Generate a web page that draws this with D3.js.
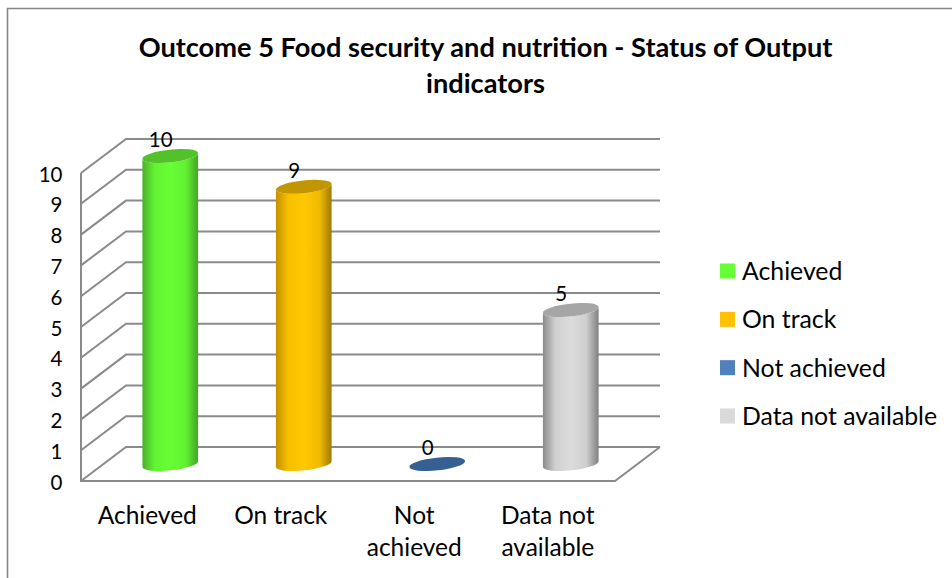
<!DOCTYPE html>
<html><head><meta charset="utf-8">
<script src="https://cdn.jsdelivr.net/npm/d3@7/dist/d3.min.js"></script>
<style>html,body{margin:0;padding:0;background:#fff}svg{display:block}text{font-family:Lato,"Noto Sans",sans-serif;fill:#000}</style>
</head><body><svg id="c" width="952" height="578"></svg>
<script>
const categories = ["Achieved","On track","Not achieved","Data not available"];
const values = [10,9,0,5];
const categoryLines = [["Achieved"],["On track"],["Not","achieved"],["Data not","available"]];
const legendColors = ["#66ff33","#ffc000","#4f81bd","#d9d9d9"];
const capColors = ["#52c12a","#c29600","#376092","#a6a6a6"];
const edgeLeft = ["#4caf2a","#c49000","#2f5480","#8a8a8a"];
const edgeRight = ["#45a326","#a07a00","#2f5480","#808080"];
const mid = ["#66ff33","#ffc800","#4f81bd","#dcdcdc"];
const titleLines = ["Outcome 5 Food security and nutrition - Status of Output","indicators"];
const yTicks = d3.range(0,11);

const svg = d3.select("#c");
const y = d3.scaleLinear().domain([0,10]).range([481,173]);
const x = d3.scaleBand().domain(categories).range([81,615]);
const depth = {x:45,y:-34};
const gridStroke = "#8a8a8a";

// Frame
svg.append("path").attr("d","M7.5,578V8.5H952").attr("fill","none").attr("stroke","#868686").attr("stroke-width",1.6);

// Title
svg.append("g").selectAll("text").data(titleLines).join("text")
  .attr("x",485.5).attr("y",(d,i)=>57+i*36).attr("text-anchor","middle")
  .attr("font-size",27.2).attr("font-weight",700).text(d=>d);

// Walls & gridlines
const g = svg.append("g").attr("fill","none").attr("stroke",gridStroke).attr("stroke-width",2);
g.selectAll("path.grid").data(yTicks).join("path").attr("class","grid")
  .attr("d",d=>`M81,${y(d)}L${81+depth.x},${y(d)+depth.y}H${615+depth.x}`);
g.append("path").attr("d",`M81,${y(10)}V${y(0)}H615L${615+depth.x},${y(0)+depth.y}`);

// y axis labels
svg.append("g").selectAll("text").data(yTicks).join("text")
  .attr("x",62.5).attr("y",d=>y(d)+8.5).attr("text-anchor","end").attr("font-size",20.5).text(d=>d);

// cylinders
const defs = svg.append("defs");
categories.forEach((c,i)=>{
  const gr = defs.append("linearGradient").attr("id","g"+i);
  gr.append("stop").attr("offset","0").attr("stop-color",edgeLeft[i]);
  gr.append("stop").attr("offset",".22").attr("stop-color",d3.interpolateRgb(edgeLeft[i],mid[i])(0.85));
  gr.append("stop").attr("offset",".5").attr("stop-color",mid[i]);
  gr.append("stop").attr("offset",".78").attr("stop-color",d3.interpolateRgb(edgeRight[i],mid[i])(0.85));
  gr.append("stop").attr("offset","1").attr("stop-color",edgeRight[i]);
});
const rx=28, ry=6.4, tilt=-6.2;
const dx=rx*Math.cos(tilt*Math.PI/180), dy=-rx*Math.sin(tilt*Math.PI/180);
const cx=d=>x(d)+x.bandwidth()/2+depth.x/2;
const cy=v=>y(v)+depth.y/2;
const bars = svg.append("g").selectAll("g").data(categories).join("g");
bars.filter((d,i)=>values[i]>0).append("path")
  .attr("fill",d=>`url(#g${categories.indexOf(d)})`)
  .attr("d",d=>{
    const i=categories.indexOf(d), X=cx(d), B=cy(0), T=cy(values[i]);
    return `M${X-dx},${T+dy}L${X-dx},${B+dy}A${rx},${ry} ${tilt} 0 0 ${X+dx},${B-dy}L${X+dx},${T-dy}A${rx},${ry} ${tilt} 0 1 ${X-dx},${T+dy}Z`;
  });
bars.append("ellipse")
  .attr("cx",d=>cx(d)).attr("cy",(d)=>cy(values[categories.indexOf(d)]))
  .attr("rx",rx).attr("ry",ry)
  .attr("transform",d=>`rotate(${tilt} ${cx(d)} ${cy(values[categories.indexOf(d)])})`)
  .attr("fill",d=>capColors[categories.indexOf(d)]);

// value labels
svg.append("g").selectAll("text").data(categories).join("text")
  .attr("x",(d,i)=>cx(d)-9.5).attr("y",(d,i)=>y(values[i])-26)
  .attr("text-anchor","middle").attr("font-size",20.5).text((d,i)=>values[i]);

// category labels
const cat = svg.append("g").selectAll("text").data(categories).join("text")
  .attr("text-anchor","middle").attr("font-size",24.5);
cat.selectAll("tspan").data((d,i)=>categoryLines[i].map(t=>({t,c:d}))).join("tspan")
  .attr("x",d=>x(d.c)+x.bandwidth()/2-0.5).attr("y",(d,i)=>524+i*32).text(d=>d.t);

// legend
const ly = d3.scalePoint().domain(categories).range([271,416]);
const leg = svg.append("g").selectAll("g").data(categories).join("g");
leg.append("rect").attr("x",720).attr("y",d=>ly(d)-7.5).attr("width",15).attr("height",15)
  .attr("fill",(d,i)=>legendColors[i]);
leg.append("text").attr("x",742).attr("y",d=>ly(d)+9).attr("font-size",24.8).text(d=>d);
</script></body></html>
